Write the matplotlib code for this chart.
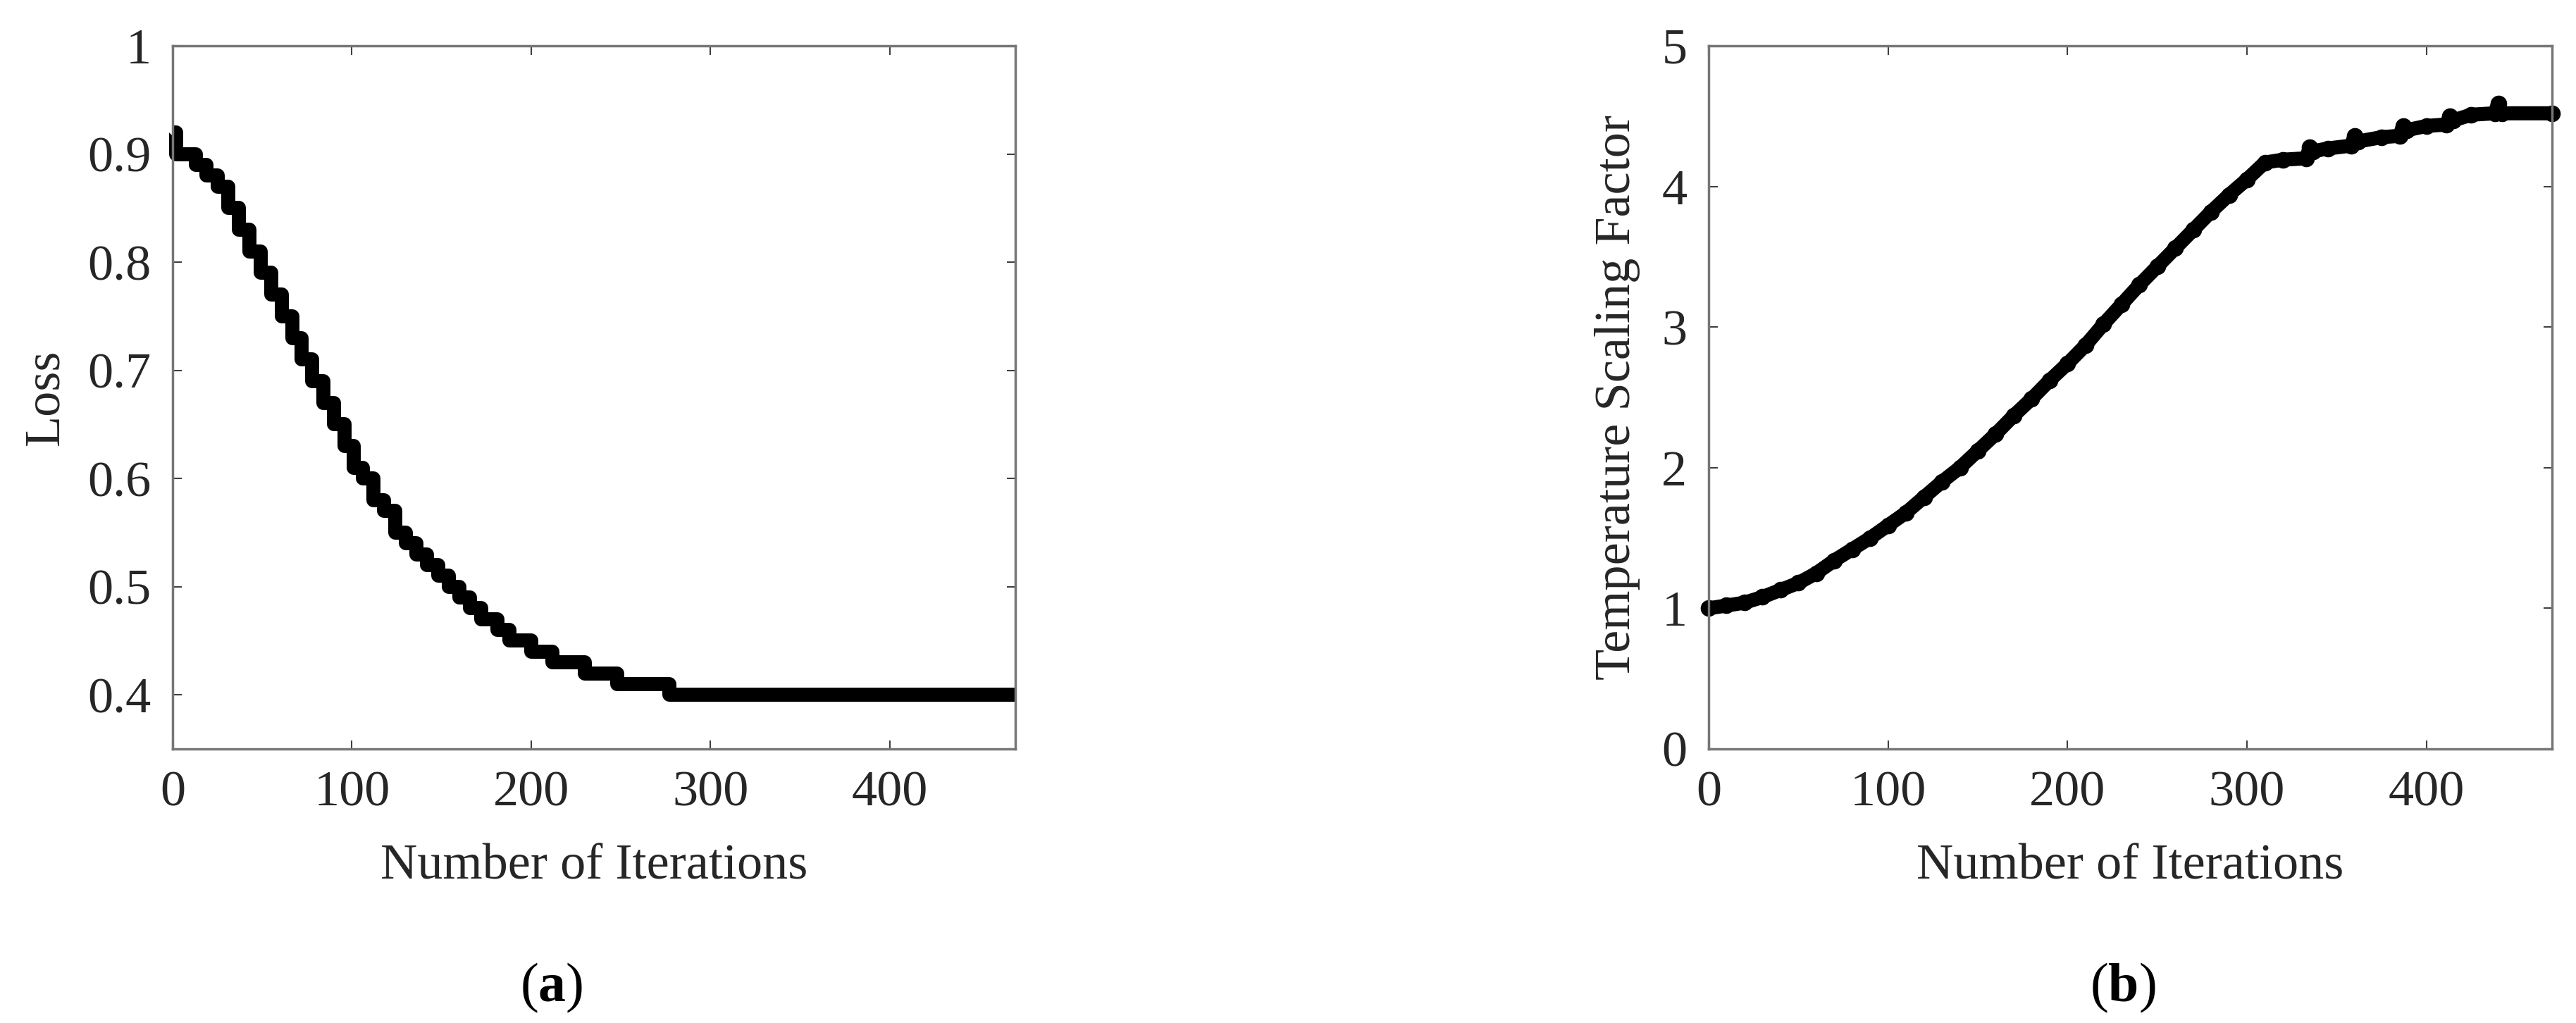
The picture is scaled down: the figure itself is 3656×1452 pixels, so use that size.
import matplotlib.pyplot as plt

plt.rcParams['font.family'] = ['Liberation Serif', 'DejaVu Serif']
plt.rcParams['mathtext.fontset'] = 'custom'
plt.rcParams['mathtext.rm'] = 'Liberation Serif'
plt.rcParams['mathtext.bf'] = 'Liberation Serif:bold'

# (a) loss, read as steps: iteration where each level starts
loss_iter = [0, 2, 13, 19, 25, 31, 37, 43, 49, 55, 61, 67, 72, 78, 84, 90, 96,
             101, 106, 112, 118, 124, 130, 136, 142, 148, 154, 160, 166, 172,
             181, 188, 200, 212, 230, 248, 277, 470]
loss_value = [0.92, 0.90, 0.89, 0.88, 0.87, 0.85, 0.83, 0.81, 0.79, 0.77, 0.75,
              0.73, 0.71, 0.69, 0.67, 0.65, 0.63, 0.61, 0.60, 0.58, 0.57, 0.55,
              0.54, 0.53, 0.52, 0.51, 0.50, 0.49, 0.48, 0.47, 0.46, 0.45, 0.44,
              0.43, 0.42, 0.41, 0.40, 0.40]

# (b) temperature scaling factor
temp_iter = [0, 10, 20, 30, 40, 50, 60, 70, 80, 90, 100, 110, 120, 130, 140,
             150, 160, 170, 180, 190, 200, 210, 220, 230, 240, 250, 260, 270,
             280, 290, 300, 310, 320, 333, 335, 337, 345, 358, 360, 362, 375,
             385, 387, 389, 400, 411, 413, 415, 425, 438, 440, 442, 470]
temp_value = [1.00, 1.02, 1.04, 1.08, 1.13, 1.18, 1.25, 1.34, 1.42, 1.50, 1.59,
              1.68, 1.79, 1.90, 2.00, 2.12, 2.24, 2.37, 2.49, 2.62, 2.74, 2.87,
              3.02, 3.16, 3.30, 3.43, 3.56, 3.69, 3.82, 3.94, 4.05, 4.17, 4.19,
              4.20, 4.28, 4.25, 4.27, 4.29, 4.36, 4.32, 4.35, 4.36, 4.43, 4.40,
              4.43, 4.44, 4.50, 4.47, 4.51, 4.52, 4.59, 4.52, 4.52]

W, H = 3656, 1452
fig = plt.figure(figsize=(W / 100, H / 100), dpi=100)

def px(x0, y0, x1, y1):
    return [x0 / W, 1 - y1 / H, (x1 - x0) / W, (y1 - y0) / H]

ax1 = fig.add_axes(px(245, 65, 1441, 1063))
ax2 = fig.add_axes(px(2425, 65, 3622, 1063))

ax1.plot(loss_iter, loss_value, color='black', lw=14.4, drawstyle='steps-post',
         solid_joinstyle='round', solid_capstyle='butt', clip_on=False)
ax1.set_xlim(0, 470)
ax1.set_ylim(0.35, 1)
ax1.set_yticks([0.4, 0.5, 0.6, 0.7, 0.8, 0.9, 1.0])
ax1.set_yticklabels(['0.4', '0.5', '0.6', '0.7', '0.8', '0.9', '1'])

ax2.plot(temp_iter, temp_value, color='black', lw=14.4, marker='o', ms=16,
         solid_joinstyle='round', solid_capstyle='butt', clip_on=False)
ax2.set_xlim(0, 470)
ax2.set_ylim(0, 5)
ax2.set_yticks([0, 1, 2, 3, 4, 5])

for ax in (ax1, ax2):
    ax.set_xticks([0, 100, 200, 300, 400])
    for s in ax.spines.values():
        s.set_color('#767676')
        s.set_linewidth(2.5)
    ax.tick_params(direction='in', length=9, width=1.5, color='#404040',
                   top=True, right=True, labelsize=52, labelcolor='#262626',
                   pad=22)

fig.text(65 / W, 1 - 564 / H, 'Loss', rotation=90, ha='center', va='center',
         fontsize=52, color='#262626')
fig.text(2295 / W, 1 - 564 / H, 'Temperature Scaling Factor', rotation=90,
         ha='center', va='center', fontsize=52, color='#262626')
fig.text(843 / W, 1 - 1248 / H, 'Number of Iterations', ha='center',
         va='baseline', fontsize=52, color='#262626')
fig.text(3023 / W, 1 - 1248 / H, 'Number of Iterations', ha='center',
         va='baseline', fontsize=52, color='#262626')

fig.text(783 / W, 1 - 1402 / H, r'($\mathbf{a}$)', ha='center', va='center',
         fontsize=56)
fig.text(3013 / W, 1 - 1402 / H, r'($\mathbf{b}$)', ha='center', va='center',
         fontsize=56)

fig.savefig('out.png', dpi=100, facecolor='white')
